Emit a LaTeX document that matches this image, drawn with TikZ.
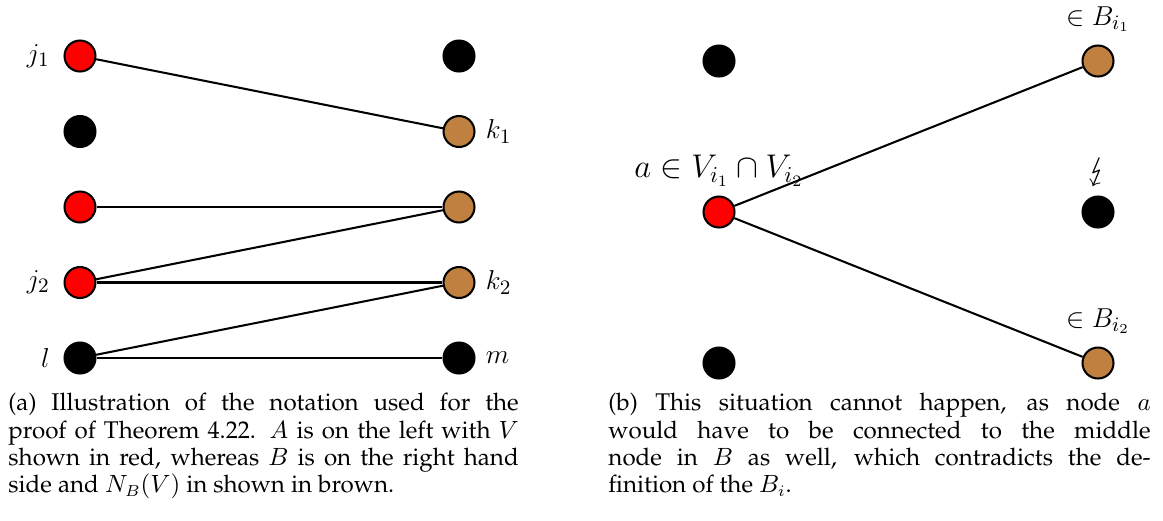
\documentclass[tikz,border=0pt]{standalone}
\usepackage[T1]{fontenc}
\usepackage{palatino}
\usepackage{amsmath,amssymb}
\usepackage{stmaryrd}
\usepackage{tikz}
\usepackage{xcolor}
\usetikzlibrary{positioning}

\begin{document}
\begin{tikzpicture}[x=0.01542cm,y=-0.01542cm,
  vtx/.style={circle,draw=black,line width=0.9pt,inner sep=0pt,minimum size=13.6pt},
  vred/.style={vtx,fill=red},
  vbrown/.style={vtx,fill=brown},
  vblack/.style={vtx,fill=black},
  edge/.style={line width=0.9pt},
  lbl/.style={font=\fontsize{13}{15}\selectfont},
  capt/.style={anchor=north west,inner sep=0pt,align=justify,font=\fontsize{10.6}{12}\selectfont}]
\useasboundingbox (0,0) rectangle (1163,520);

% (a) A on the left, B on the right
\begin{scope}
  \node[vred]   (j1) at (80,56)    {};
  \node[vblack] (a2) at (80,131.5) {};
  \node[vred]   (a3) at (80,207)   {};
  \node[vred]   (j2) at (80,282.5) {};
  \node[vblack] (l)  at (80,358)   {};
  \node[vblack] (b1) at (459,56)    {};
  \node[vbrown] (k1) at (459,131.5) {};
  \node[vbrown] (b3) at (459,207)   {};
  \node[vbrown] (k2) at (459,282.5) {};
  \node[vblack] (m)  at (459,358)   {};
  \draw[edge] (j1)--(k1);
  \draw[edge] (a3)--(b3);
  \draw[edge] (j2)--(b3);
  \draw[edge] (j2)--(k2);
  \draw[edge] (l)--(k2);
  \draw[edge] (l)--(m);
  \node[lbl,left=2.5pt of j1]  (lj1) {$j_1$};
  \node[lbl,left=2.5pt of j2]  (lj2) {$j_2$};
  \node[lbl,left=2.5pt of l]   (ll)  {$l$};
  \node[lbl,right=1pt of k1]   (lk1) {$k_1$};
  \node[lbl,right=1pt of k2]   (lk2) {$k_2$};
  \node[lbl,right=1pt of m]    (lm)  {$m$};
  \node[capt,text width=224pt] (capa) at (8,393)
  {(a) Illustration of the notation used for the\linebreak
   proof of Theorem 4.22. $A$ is on the left with $V$\linebreak
   shown in red, whereas $B$ is on the right hand\linebreak
   side and $N_B(V)$ in shown in brown.};
\end{scope}

% (b) node a cannot lie in two of the V_i
\begin{scope}
  \node[vblack] (c1) at (719,61)  {};
  \node[vred]   (na) at (719,212) {};
  \node[vblack] (c3) at (719,363) {};
  \node[vbrown] (d1) at (1098,61)  {};
  \node[vblack] (d2) at (1098,212) {};
  \node[vbrown] (d3) at (1098,363) {};
  \draw[edge] (na)--(d1);
  \draw[edge] (na)--(d3);
  \node[lbl,font=\Large,above=0.5pt of na] (lna) {$a\in V_{i_1}\cap V_{i_2}$};
  \node[lbl,above=2pt of d1] (ld1) {$\in B_{i_1}$};
  \node[lbl,font=\Large,above=0.5pt of d2] (ld2) {$\lightning$};
  \node[lbl,above=2pt of d3] (ld3) {$\in B_{i_2}$};
  \node[capt,text width=238pt] (capb) at (608,393)
  {(b) This situation cannot happen, as node $a$\linebreak
   would have to be connected to the middle\linebreak
   node in $B$ as well, which contradicts the de-\linebreak
   finition of the $B_i$.};
\end{scope}
\end{tikzpicture}
\end{document}
